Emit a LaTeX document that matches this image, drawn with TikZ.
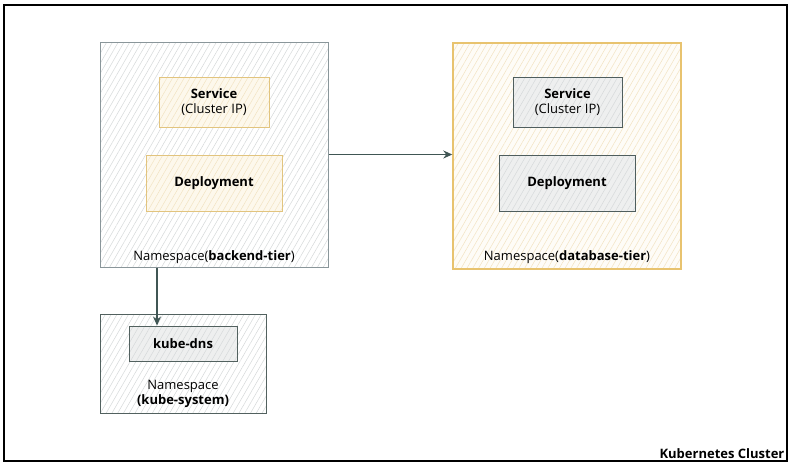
\documentclass[tikz,border=0pt]{standalone}
\usepackage{fontspec}
\setmainfont{Open Sans}
\usetikzlibrary{arrows.meta, patterns.meta}
\definecolor{nsgrey}{HTML}{8A969A}
\definecolor{tan}{HTML}{E2C47E}
\definecolor{cream}{HTML}{FDF8EC}
\definecolor{gold}{HTML}{E8C36F}
\definecolor{boxgrey}{HTML}{4F5E5E}
\definecolor{boxfill}{HTML}{EEEFEF}
\definecolor{kubegrey}{HTML}{52615F}
\definecolor{slate}{HTML}{405654}
\definecolor{hatchgrey}{HTML}{D6D9DA}
\definecolor{hatchcream}{HTML}{F2E3C2}

\begin{document}
\begin{tikzpicture}[x=1pt, y=-1pt, font=\fontsize{13}{15.5}\selectfont,
    box/.style={draw, rectangle, line width=1pt, inner sep=0pt},
    hatched/.style 2 args={preaction={fill=#1}, preaction={pattern={Lines[angle=60,distance=5pt,line width=0.5pt]}, pattern color=#2}},
    link/.style={draw=slate, line width=1.5pt, -{Stealth[length=9pt,width=8pt]}}]
    \useasboundingbox (0,0) rectangle (797,467);

    % cluster
    \node[box, line width=1.2pt, minimum width=783pt, minimum height=456pt] (cluster) at (395.5,233) {};
    \node[anchor=south east, inner sep=3pt, font=\fontsize{13}{15.5}\selectfont\bfseries] (clustername) at (cluster.south east) {Kubernetes Cluster};

    % backend-tier
    \node[box, draw=nsgrey, hatched={white}{hatchgrey}, minimum width=228pt, minimum height=225pt] (backend) at (214,154.5) {};
    \node[box, draw=tan, hatched={cream}{hatchcream}, minimum width=110pt, minimum height=50pt, align=center] (backendsvc) at (214,102) {\textbf{Service}\\(Cluster IP)};
    \node[box, draw=tan, hatched={cream}{hatchcream}, minimum width=136pt, minimum height=56pt] (backenddep) at (214,183) {\textbf{Deployment}};
    \node (backendname) at (214,257) {Namespace(\textbf{backend-tier})};

    % database-tier
    \node[box, draw=gold, line width=1.4pt, hatched={cream!40}{hatchcream}, minimum width=228pt, minimum height=226pt] (database) at (567,156) {};
    \node[box, draw=boxgrey, hatched={boxfill}{hatchgrey}, minimum width=109pt, minimum height=50pt, align=center] (databasesvc) at (567.5,102) {\textbf{Service}\\(Cluster IP)};
    \node[box, draw=boxgrey, hatched={boxfill}{hatchgrey}, minimum width=136pt, minimum height=56pt] (databasedep) at (567,183) {\textbf{Deployment}};
    \node (databasename) at (567,257) {Namespace(\textbf{database-tier})};

    % kube-system
    \node[box, draw=kubegrey, hatched={white}{hatchgrey}, minimum width=166pt, minimum height=99pt] (kubesys) at (183,363.5) {};
    \node[box, draw=kubegrey, hatched={boxfill}{hatchgrey}, minimum width=108pt, minimum height=35pt] (kubedns) at (183,343.5) {\textbf{kube-dns}};
    \node[align=center] (kubesysname) at (183,394) {Namespace\\\textbf{(kube-system)}};

    \coordinate (dnsin) at ([xshift=-26pt]kubedns.north);
    \draw[link] (backend.east) -- (backend.east -| database.west);
    \draw[link] (dnsin |- backend.south) -- (dnsin);
\end{tikzpicture}
\end{document}
